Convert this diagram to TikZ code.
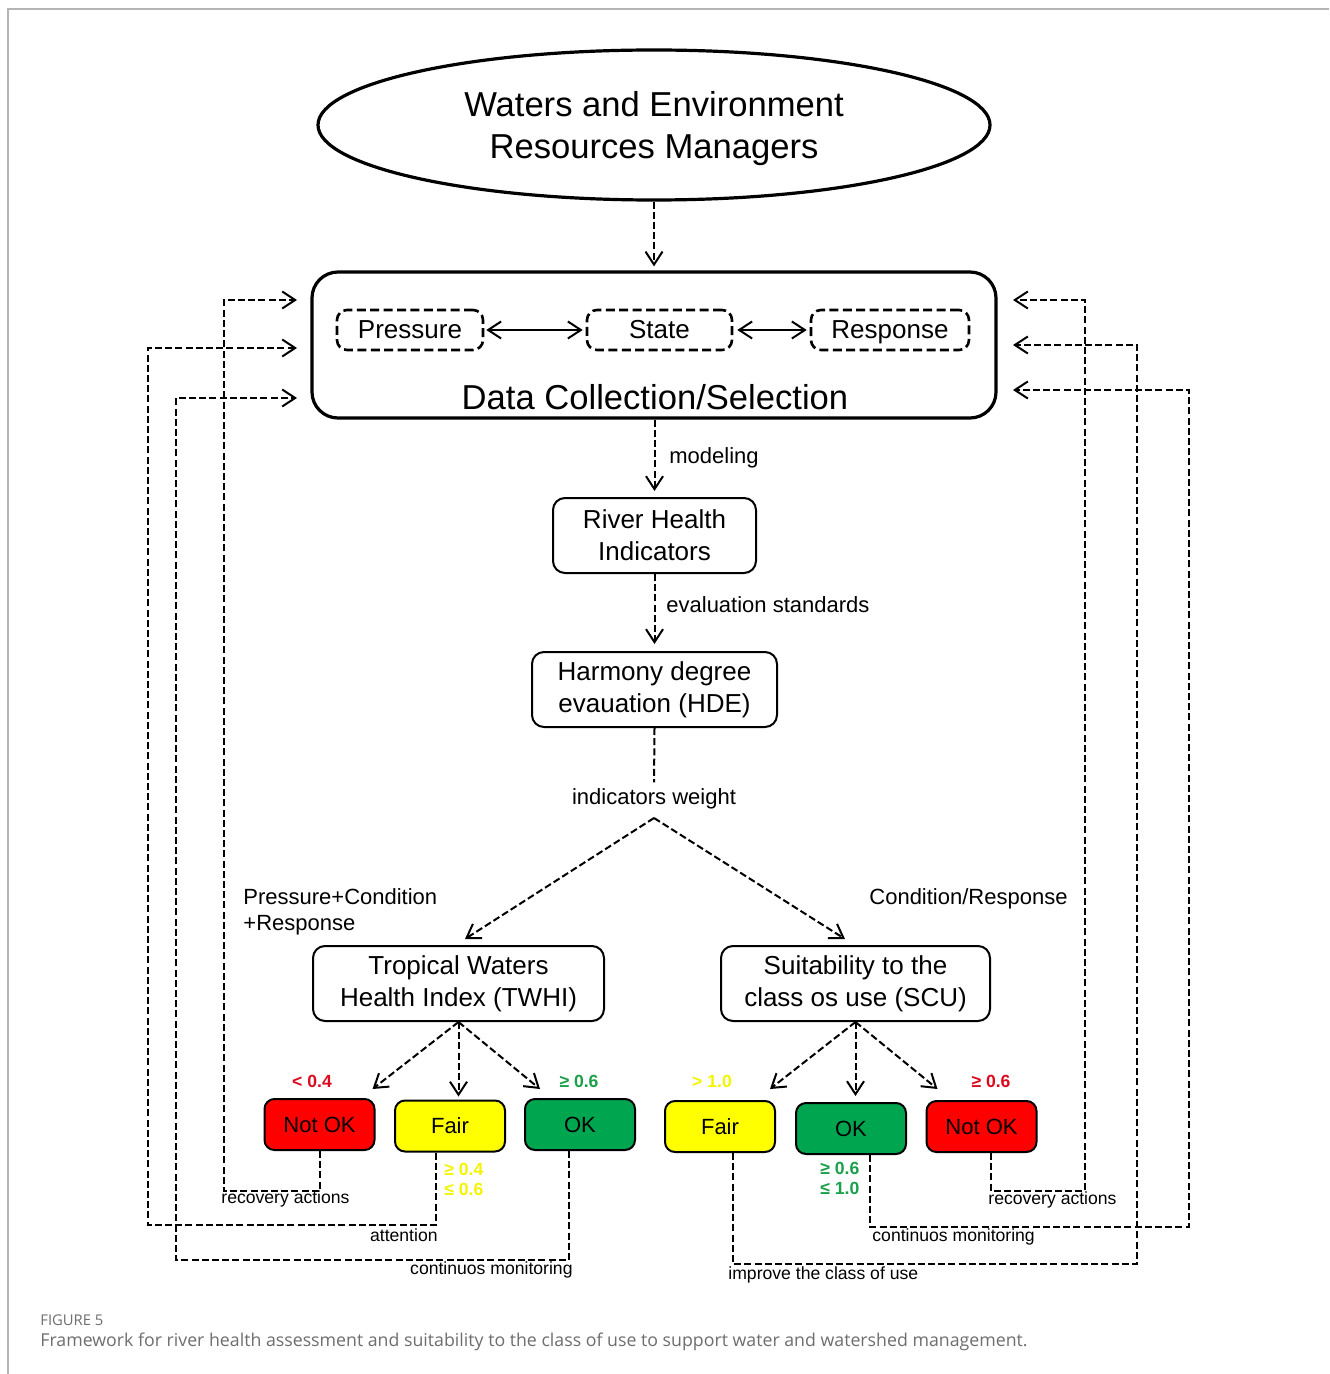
\documentclass[tikz,border=0pt]{standalone}
\usepackage{fontspec}
\setmainfont{Liberation Sans}
\newfontfamily\capfont{Open Sans}
\usetikzlibrary{arrows.meta,shapes.geometric,calc}
\definecolor{boxred}{HTML}{FF0000}
\definecolor{boxyel}{HTML}{FFFF00}
\definecolor{boxgrn}{HTML}{00A550}
\definecolor{txtred}{HTML}{DC0A1E}
\definecolor{txtgrn}{HTML}{1AA04A}
\definecolor{txtyel}{HTML}{F4F400}
\definecolor{capgray}{HTML}{6E6E6E}
\definecolor{framegray}{HTML}{B4B4B4}
\begin{document}
\begin{tikzpicture}[x=0.5pt,y=-0.5pt,
  >={Straight Barb[length=6.5pt,width=8.5pt,line width=1pt]},
  fb/.style={line width=1pt,dash pattern=on 3.5pt off 1.6pt},
  dbox/.style={draw,line width=1.3pt,dash pattern=on 4.5pt off 2.2pt,rounded corners=5pt,minimum height=20pt,inner sep=0pt,text height=9.6pt,text depth=1.6pt,font=\fontsize{13}{15}\selectfont},
  wbox/.style={draw,line width=1pt,rounded corners=6pt,minimum height=37.5pt,inner sep=0pt,align=center,font=\fontsize{13}{16}\selectfont},
  cbox/.style={draw,line width=1pt,rounded corners=5pt,minimum width=55pt,minimum height=25.5pt,inner sep=0pt,font=\fontsize{11}{13}\selectfont},
  lbl/.style={inner sep=0pt,font=\fontsize{11}{13}\selectfont},
  slbl/.style={inner sep=0pt,font=\fontsize{8.8}{10}\selectfont},
  val/.style={inner sep=0pt,font=\bfseries\fontsize{8.8}{10}\selectfont,align=left}]
\useasboundingbox (0,0) rectangle (1329,1374);
\fill[white] (0,0) rectangle (1329,1374);
\draw[framegray,line width=0.8pt] (8,1374) -- (8,9) -- (1329,9);

% top
\node[ellipse,draw,line width=1.6pt,minimum width=336pt,minimum height=75pt,inner sep=0pt] (mgr) at (654,125) {};
\node[inner sep=0pt,align=center,font=\fontsize{17.3}{21}\selectfont] (mgrtext) at (654,129) {Waters and Environment\\Resources Managers};
\node[draw,line width=1.6pt,rounded corners=13pt,minimum width=342pt,minimum height=73pt,inner sep=0pt] (data) at (654,345) {};
\node[inner sep=0pt,font=\fontsize{17.3}{20}\selectfont] (dctitle) at (655,397) {Data Collection/Selection};
\node[dbox,minimum width=73pt] (pres) at (410,330) {Pressure};
\node[dbox,minimum width=72.5pt] (state) at (659.5,330) {State};
\node[dbox,minimum width=79pt] (resp) at (890,330) {Response};
\draw[<->,line width=0.8pt,shorten <=1pt,shorten >=1.5pt] (pres.east) -- (state.west);
\draw[<->,line width=0.8pt,shorten <=2pt,shorten >=1.5pt] (state.east) -- (resp.west);
\draw[fb,->,shorten >=2pt] (mgr.south) -- (data.north);

% middle chain
\node[wbox,minimum width=101.5pt] (rhi) at (654.5,535.5) {River Health\\Indicators};
\node[wbox,minimum width=122.5pt] (hde) at (654.5,689.5) {Harmony degree\\evauation (HDE)};
\draw[fb,->,shorten >=3pt] (data.south -| rhi.north) -- (rhi.north);
\node[lbl,anchor=west] (lmod) at (669,458) {modeling};
\draw[fb,->,shorten >=3.5pt] (rhi.south) -- (hde.north);
\node[lbl,anchor=west] (lev) at (666,605) {evaluation standards};
\node[lbl] (iw) at (654,799) {indicators weight};
\draw[fb,shorten >=3pt] (hde.south) -- (iw.north);
\coordinate (apex) at (654,818);

% indices
\node[wbox,minimum width=145.5pt] (twhi) at (458.5,983.5) {Tropical Waters\\Health Index (TWHI)};
\node[wbox,minimum width=134.5pt] (scu) at (855.5,983.5) {Suitability to the\\class os use (SCU)};
\draw[fb,->] (apex) -- ([shift={(3.25pt,3pt)}]twhi.north);
\draw[fb,->] (apex) -- ([shift={(-5.25pt,3pt)}]scu.north);
\node[lbl,anchor=west,align=left] (lpcr) at (243,912) {Pressure+Condition\\+Response};
\node[lbl,anchor=west] (lcr) at (869,899) {Condition/Response};

% class boxes
\node[cbox,fill=boxred] (nokL) at (319.5,1124.5) {Not OK};
\node[cbox,fill=boxyel] (fairL) at (450,1126) {Fair};
\node[cbox,fill=boxgrn] (okL) at (580,1124.5) {OK};
\node[cbox,fill=boxyel] (fairR) at (720,1126.5) {Fair};
\node[cbox,fill=boxgrn] (okR) at (851,1128.5) {OK};
\node[cbox,fill=boxred] (nokR) at (981.5,1126.5) {Not OK};

\draw[fb,->] (twhi.south) -- ([shift={(-1.5pt,4.5pt)}]nokL.north east);
\draw[fb,->,shorten >=1.5pt] (twhi.south) -- (twhi.south |- fairL.north);
\draw[fb,->] (twhi.south) -- ([shift={(8pt,4.5pt)}]okL.north west);
\draw[fb,->] (scu.south) -- ([shift={(-3pt,5.5pt)}]fairR.north east);
\draw[fb,->,shorten >=3pt] (scu.south) -- (scu.south |- okR.north);
\draw[fb,->] (scu.south) -- ([shift={(6pt,5.5pt)}]nokR.north west);

% thresholds
\node[val,text=txtred] (v1) at (312,1081) {< 0.4};
\node[val,text=txtgrn] (v2) at (579,1081) {≥ 0.6};
\node[val,text=txtyel] (v3) at (712,1081) {> 1.0};
\node[val,text=txtred] (v4) at (991,1081) {≥ 0.6};
\node[val,text=txtyel,anchor=west] (v5) at (444,1179) {≥ 0.4\\≤ 0.6};
\node[val,text=txtgrn,anchor=west] (v6) at (820,1178.5) {≥ 0.6\\≤ 1.0};

% feedback loops
\coordinate (inL1) at (297,300);
\coordinate (inL2) at (297,348);
\coordinate (inL3) at (297,398);
\coordinate (inR1) at (1013,300);
\coordinate (inR2) at (1013,345);
\coordinate (inR3) at (1013,390);
\draw[fb,->] (nokL.south) |- (224,1191) |- (inL1);
\draw[fb,->] ([xshift=-7pt]fairL.south) |- (148,1225) |- (inL2);
\draw[fb,->] ([xshift=-5.5pt]okL.south) |- (176,1260) |- (inL3);
\draw[fb,->] ([xshift=4.75pt]nokR.south) |- (1085,1191) |- (inR1);
\draw[fb,->] ([xshift=9.5pt]okR.south) |- (1189,1227) |- (inR3);
\draw[fb,->] ([xshift=6.5pt]fairR.south) |- (1137,1264) |- (inR2);
\node[slbl,anchor=west] (f1) at (221,1199) {recovery actions};
\node[slbl,anchor=east] (f2) at (438,1235) {attention};
\node[slbl,anchor=east] (f3) at (573,1270) {continuos monitoring};
\node[slbl,anchor=west] (f4) at (988,1200) {recovery actions};
\node[slbl,anchor=west] (f5) at (872,1237) {continuos monitoring};
\node[slbl,anchor=west] (f6) at (728,1275) {improve the class of use};

% caption
\node[inner sep=0pt,anchor=west,text=capgray,font=\capfont\fontsize{7.4}{8}\selectfont] (figno) at (40,1320) {FIGURE 5};
\node[inner sep=0pt,anchor=west,text=capgray,font=\capfont\fontsize{8.87}{10}\selectfont] (cap) at (40,1342) {Framework for river health assessment and suitability to the class of use to support water and watershed management.};
\end{tikzpicture}
\end{document}
